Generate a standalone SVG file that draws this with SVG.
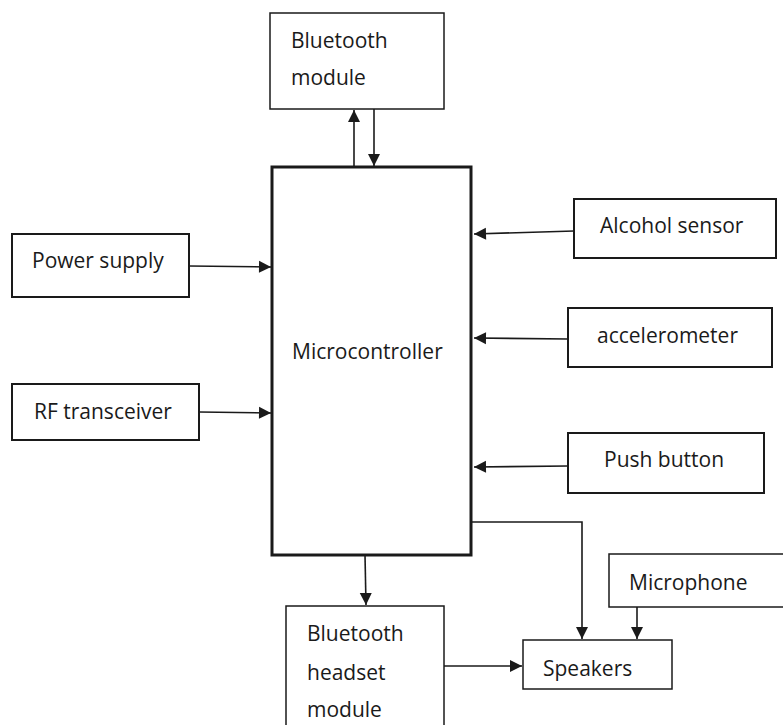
<svg xmlns="http://www.w3.org/2000/svg" width="783" height="725" viewBox="0 0 783 725">
<defs>
<style>
.box{fill:#fff;stroke:#1a1a1a;stroke-width:2}
.thin{stroke-width:1.5}
.mcu{stroke-width:3}
.lbl{font-family:"Open Sans","Liberation Sans",sans-serif;font-size:21px;fill:#1a1a1a}
.conn{fill:none;stroke:#1a1a1a;stroke-width:1.6;marker-end:url(#ah)}
</style>
<marker id="ah" markerUnits="userSpaceOnUse" markerWidth="14" markerHeight="14" viewBox="0 0 14 14" refX="13" refY="7" orient="auto">
<path d="M1,1 L13,7 L1,13 Z" fill="#1a1a1a"/>
</marker>
</defs>
<rect width="783" height="725" fill="#fff"/>
<g id="connectors">
<path class="conn" d="M354,167 L354,110"/>
<path class="conn" d="M374,109 L374,166"/>
<path class="conn" d="M189,266 L271,267"/>
<path class="conn" d="M199,412 L271,413"/>
<path class="conn" d="M574,231 L474,234"/>
<path class="conn" d="M568,339 L474,338"/>
<path class="conn" d="M568,466 L474,467"/>
<path class="conn" d="M365,555 L366,605"/>
<path class="conn" d="M471,522 L582,522 L582,639"/>
<path class="conn" d="M637,607 L637,639"/>
<path class="conn" d="M444,666 L522,666"/>
</g>
<g id="bluetooth-module">
<rect class="box thin" x="270" y="13" width="174" height="96"/>
<text class="lbl" x="291" y="48">Bluetooth</text>
<text class="lbl" x="291" y="85">module</text>
</g>
<g id="microcontroller">
<rect class="box mcu" x="272" y="167" width="199" height="388"/>
<text class="lbl" x="292" y="359">Microcontroller</text>
</g>
<g id="power-supply">
<rect class="box" x="12" y="234" width="177" height="63"/>
<text class="lbl" x="32" y="268">Power supply</text>
</g>
<g id="rf-transceiver">
<rect class="box" x="12" y="384" width="187" height="56"/>
<text class="lbl" x="34" y="419">RF transceiver</text>
</g>
<g id="alcohol-sensor">
<rect class="box" x="574" y="199" width="202" height="59"/>
<text class="lbl" x="600" y="233">Alcohol sensor</text>
</g>
<g id="accelerometer">
<rect class="box" x="568" y="308" width="204" height="59"/>
<text class="lbl" x="597" y="343">accelerometer</text>
</g>
<g id="push-button">
<rect class="box" x="568" y="433" width="196" height="60"/>
<text class="lbl" x="604" y="467">Push button</text>
</g>
<g id="bluetooth-headset-module">
<rect class="box thin" x="286" y="606" width="158" height="130"/>
<text class="lbl" x="307" y="641">Bluetooth</text>
<text class="lbl" x="307" y="680">headset</text>
<text class="lbl" x="307" y="717">module</text>
</g>
<g id="speakers">
<rect class="box thin" x="523" y="640" width="149" height="49"/>
<text class="lbl" x="543" y="676">Speakers</text>
</g>
<g id="microphone">
<rect class="box thin" x="609" y="554" width="190" height="53"/>
<text class="lbl" x="629" y="590">Microphone</text>
</g>
</svg>
